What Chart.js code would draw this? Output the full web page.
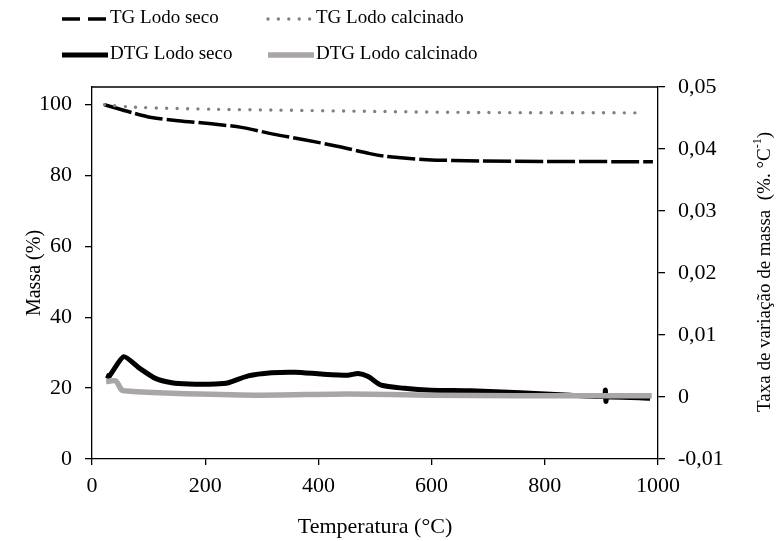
<!DOCTYPE html>
<html>
<head>
<meta charset="utf-8">
<script src="https://cdn.jsdelivr.net/npm/chart.js@4.4.0/dist/chart.umd.min.js"></script>
<style>
  html, body { margin: 0; padding: 0; background: #fff; }
  #wrap { width: 779px; height: 541px; position: relative; }
</style>
</head>
<body>
<div id="wrap"><canvas id="graphCanvas"></canvas></div>
<script>
// TG curves, left axis (Massa %)
const tgSecoTemp = [22, 72, 105, 152, 211, 264, 320, 375, 433, 491, 520, 592, 685, 800, 991];
const tgSecoMassa = [100, 97.7, 96.4, 95.5, 94.6, 93.6, 91.7, 90.1, 88.3, 86.2, 85.4, 84.5, 84.1, 84.0, 83.9];
const tgCalcTemp = [22, 75, 222, 320, 500, 685, 972];
const tgCalcMassa = [100, 99.3, 98.7, 98.5, 98.1, 97.8, 97.7];

// DTG curves, right axis (%.°C-1)
const dtgSecoTemp = [25, 30, 56, 83, 112, 141, 171, 218, 241, 276, 317, 359, 405, 452, 470, 488, 511, 552, 599, 669, 757, 845, 905, 907, 908, 910, 986];
const dtgSecoTaxa = [0.0035, 0.0033, 0.0065, 0.0047, 0.0030, 0.0023, 0.0021, 0.0021, 0.0023, 0.0034, 0.0039, 0.0040, 0.0037, 0.0035, 0.0038, 0.0033, 0.0019, 0.0014, 0.0011, 0.0010, 0.0007, 0.0003, 0.0001, 0.0011, -0.0007, 0.0000, -0.0002];
const dtgCalcTemp = [25, 42, 53, 71, 141, 288, 452, 600, 750, 989];
const dtgCalcTaxa = [0.0025, 0.0026, 0.0011, 0.0009, 0.0006, 0.0003, 0.0005, 0.0003, 0.0002, 0.0002];

// Axis ranges and tick labels
const xRange = [0, 1000];
const xTickValues = [0, 200, 400, 600, 800, 1000];
const massaRange = [0, 105];
const massaTickValues = [0, 20, 40, 60, 80, 100];
const taxaRange = [-0.01, 0.05];
const taxaTickValues = [-0.01, 0, 0.01, 0.02, 0.03, 0.04, 0.05];
const taxaTickLabels = ['-0,01', '0', '0,01', '0,02', '0,03', '0,04', '0,05'];

const legendLabels = ['TG Lodo seco', 'TG Lodo calcinado', 'DTG Lodo seco', 'DTG Lodo calcinado'];

const FONT = "'Liberation Serif', 'Times New Roman', serif";

function toPoints(xs, ys) {
    return xs.map((x, i) => ({x: x, y: ys[i]}));
}

function fixedTicks(values) {
    return function(scale) {
        scale.ticks = values.map(v => ({value: v}));
    };
}

const axisGrid = {
    display: true,
    drawOnChartArea: false,
    drawTicks: true,
    tickLength: 7,
    color: '#000',
    lineWidth: 1.3
};
const axisBorder = { display: true, color: '#000', width: 1.3 };
const tickFont = { family: FONT, size: 22 };

// custom legend, top border and right-hand title
const extras = {
    id: 'extras',
    afterDraw(chart) {
        const ctx = chart.ctx;
        const area = chart.chartArea;
        ctx.save();

        // top border of plot box
        ctx.strokeStyle = '#000';
        ctx.lineWidth = 1.3;
        ctx.beginPath();
        ctx.moveTo(area.left, area.top);
        ctx.lineTo(area.right, area.top);
        ctx.stroke();

        // legend, 2 x 2
        const slots = [
            {x: 62, y: 18}, {x: 268, y: 18},
            {x: 62, y: 54}, {x: 268, y: 54}
        ];
        ctx.font = '19px ' + FONT;
        ctx.textBaseline = 'middle';
        ctx.textAlign = 'left';
        chart.data.datasets.forEach((ds, i) => {
            const s = slots[i];
            ctx.strokeStyle = ds.borderColor;
            ctx.lineWidth = ds.borderWidth;
            ctx.lineCap = ds.borderCapStyle || 'butt';
            ctx.setLineDash(i === 0 ? [18, 8] : (ds.borderDash || []));
            ctx.beginPath();
            ctx.moveTo(s.x, s.y + 1);
            ctx.lineTo(s.x + 46, s.y + 1);
            ctx.stroke();
            ctx.setLineDash([]);
            ctx.fillStyle = '#000';
            ctx.fillText(legendLabels[i], s.x + 48, s.y);
        });

        // right axis title, reading bottom to top, with superscript
        const main = 'Taxa de variação de massa  (%. °C';
        const sup = '-1';
        const tail = ')';
        ctx.font = '19px ' + FONT;
        const w1 = ctx.measureText(main).width;
        const w3 = ctx.measureText(tail).width;
        ctx.font = '12px ' + FONT;
        const w2 = ctx.measureText(sup).width;
        const total = w1 + w2 + w3;
        ctx.translate(765, 272);
        ctx.rotate(-Math.PI / 2);
        ctx.fillStyle = '#000';
        ctx.textBaseline = 'middle';
        let x = -total / 2;
        ctx.font = '19px ' + FONT;
        ctx.fillText(main, x, 0);
        x += w1;
        ctx.font = '12px ' + FONT;
        ctx.fillText(sup, x, -7);
        x += w2;
        ctx.font = '19px ' + FONT;
        ctx.fillText(tail, x, 0);
        ctx.restore();
    }
};

let chart = null;

function initChart() {
    const ctx = document.getElementById('graphCanvas').getContext('2d');

    chart = new Chart(ctx, {
        type: 'line',
        data: {
            datasets: [{
                label: legendLabels[0],
                data: toPoints(tgSecoTemp, tgSecoMassa),
                yAxisID: 'y',
                borderColor: '#000',
                borderWidth: 3.5,
                borderDash: [28, 4],
                pointRadius: 0,
                fill: false,
                tension: 0.3,
                order: 3
            }, {
                label: legendLabels[1],
                data: toPoints(tgCalcTemp, tgCalcMassa),
                yAxisID: 'y',
                borderColor: '#808080',
                borderWidth: 3.4,
                borderDash: [0, 10.4],
                borderCapStyle: 'round',
                pointRadius: 0,
                fill: false,
                tension: 0.3,
                order: 2
            }, {
                label: legendLabels[2],
                data: toPoints(dtgSecoTemp, dtgSecoTaxa),
                yAxisID: 'y1',
                borderColor: '#000',
                borderWidth: 5,
                pointRadius: 0,
                fill: false,
                tension: 0.2,
                order: 1
            }, {
                label: legendLabels[3],
                data: toPoints(dtgCalcTemp, dtgCalcTaxa),
                yAxisID: 'y1',
                borderColor: '#aaa6a6',
                borderWidth: 5.5,
                pointRadius: 0,
                fill: false,
                tension: 0.2,
                order: 0
            }]
        },
        options: {
            responsive: true,
            maintainAspectRatio: false,
            animation: false,
            layout: { padding: { top: 87, left: 0, right: 0, bottom: 0 } },
            scales: {
                x: {
                    type: 'linear',
                    min: xRange[0],
                    max: xRange[1],
                    afterBuildTicks: fixedTicks(xTickValues),
                    ticks: {
                        color: '#000', font: tickFont, padding: 8, maxRotation: 0,
                        callback: value => String(value)
                    },
                    grid: Object.assign({}, axisGrid, { tickLength: 6 }),
                    border: axisBorder,
                    title: {
                        display: true,
                        text: 'Temperatura (°C)',
                        color: '#000',
                        font: { family: FONT, size: 22 },
                        padding: { top: 0, bottom: 1 }
                    },
                    afterFit: function(scale) { scale.height = 82; }
                },
                y: {
                    type: 'linear',
                    position: 'left',
                    min: massaRange[0],
                    max: massaRange[1],
                    afterBuildTicks: fixedTicks(massaTickValues),
                    ticks: {
                        color: '#000', font: tickFont, padding: 13,
                        callback: value => String(value)
                    },
                    grid: axisGrid,
                    border: axisBorder,
                    title: {
                        display: true,
                        text: 'Massa (%)',
                        color: '#000',
                        font: { family: FONT, size: 20 },
                        padding: { top: 23, bottom: 0 }
                    },
                    afterFit: function(scale) { scale.width = 92; }
                },
                y1: {
                    type: 'linear',
                    position: 'right',
                    min: taxaRange[0],
                    max: taxaRange[1],
                    afterBuildTicks: fixedTicks(taxaTickValues),
                    ticks: {
                        color: '#000',
                        font: tickFont,
                        padding: 13,
                        callback: function(value, index) {
                            return taxaTickLabels[index];
                        }
                    },
                    grid: axisGrid,
                    border: axisBorder,
                    afterFit: function(scale) { scale.width = 121; }
                }
            },
            plugins: {
                legend: { display: false },
                tooltip: { enabled: false }
            }
        },
        plugins: [extras]
    });
}

document.addEventListener('DOMContentLoaded', function() {
    initChart();
});
</script>
</body>
</html>
